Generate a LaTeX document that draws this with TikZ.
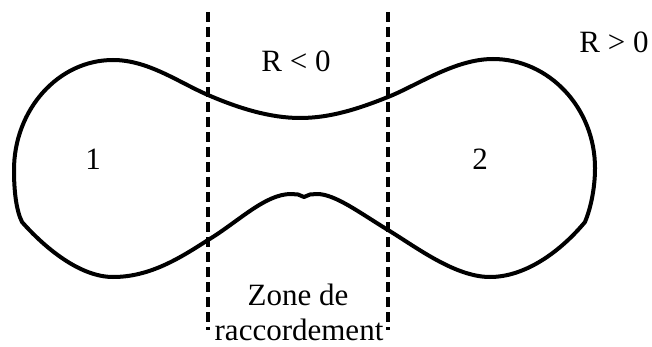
\documentclass[tikz,border=0pt]{standalone}
\usepackage{fontspec}
\setmainfont{Liberation Serif}
\begin{document}
\begin{tikzpicture}[x=1pt,y=-1pt,
  outline/.style={line width=4pt,line join=round,line cap=round},
  zoneline/.style={line width=3.4pt,dash pattern=on 10pt off 5pt},
  lbl/.style={font=\fontsize{31}{36}\selectfont,inner sep=0pt,anchor=base}]
\useasboundingbox (0,0) rectangle (652,347);
% dashed limits of the transition zone
\coordinate (lt) at (208,12);
\coordinate (lb) at (208,330);
\coordinate (rt) at (388,12);
\coordinate (rb) at (388,330);
\draw[zoneline] (lt) -- (lb);
\draw[zoneline] (rt) -- (rb);
% dumbbell outline
\draw[outline]
  (113,60) .. controls (148,60) and (178,82) .. (208,95)
  .. controls (238,108) and (270,118) .. (300,118)
  .. controls (330,118) and (358,109) .. (388,97)
  .. controls (418,85) and (455,59) .. (493,59)
  .. controls (549,59) and (595,108) .. (595,168)
  .. controls (595,190) and (590,210) .. (585,222)
  .. controls (560,252) and (525,277) .. (490,277)
  .. controls (455,277) and (416,247) .. (388,230)
  .. controls (360,213) and (335,194) .. (317,194)
  -- (310,194.5) -- (304,197) -- (298,194.5) -- (291,194)
  .. controls (265,194) and (238,222) .. (208,240)
  .. controls (180,258) and (150,277) .. (113,277)
  .. controls (80,277) and (45,248) .. (22,222)
  .. controls (16,210) and (14,190) .. (14,170)
  .. controls (14,110) and (58,60) .. cycle;
% labels
\node[lbl] (rneg) at (296,72) {R < 0};
\node[lbl] (rpos) at (614,53) {R > 0};
\node[lbl] (one) at (93,170) {1};
\node[lbl] (two) at (480,170) {2};
\node[lbl] (zone) at (298,305) {Zone de};
\node[lbl] (racc) at (299,340) {raccordement};
\end{tikzpicture}
\end{document}
